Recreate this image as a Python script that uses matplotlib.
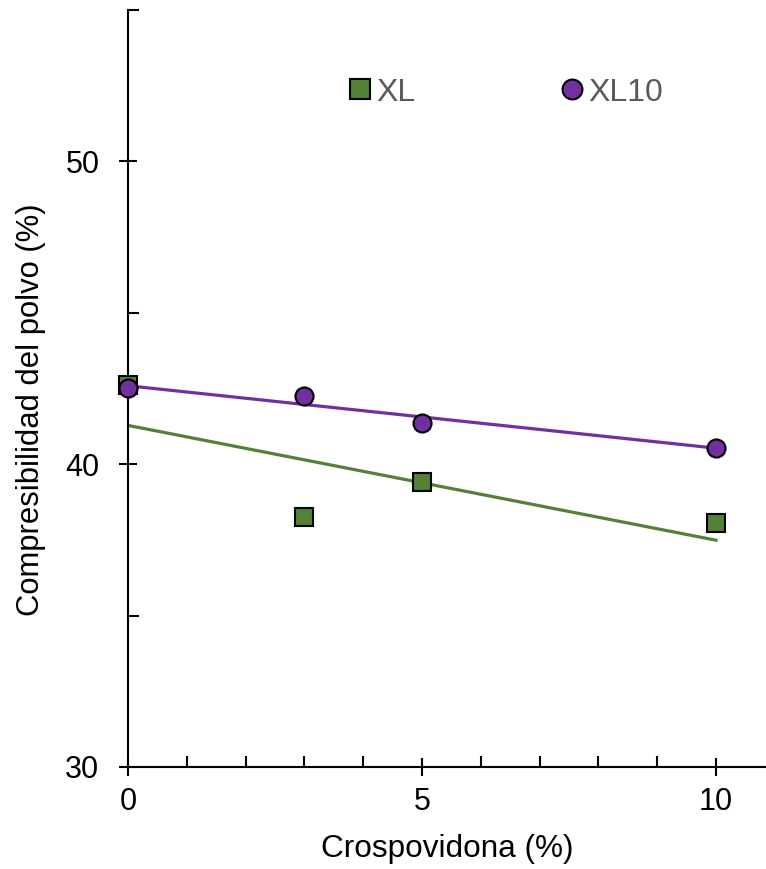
import numpy as np
import matplotlib
matplotlib.use('Agg')
import matplotlib.pyplot as plt
from matplotlib.ticker import MultipleLocator

plt.rcParams['font.family'] = ['Liberation Sans', 'DejaVu Sans']

crospovidona = [0, 3, 5, 10]
xl = [42.6, 38.25, 39.4, 38.05]
xl10 = [42.5, 42.25, 41.35, 40.55]

green = '#538135'
purple = '#7030A0'

fig = plt.figure(figsize=(7.66, 8.69), dpi=100)
ax = fig.add_axes([0.167, 0.1174, 0.833, 0.8711])

# trend lines (least squares)
xs = np.array([0, 10])
for y, c in [(xl, green), (xl10, purple)]:
    m, b = np.polyfit(crospovidona, y, 1)
    ax.plot(xs, m * xs + b, color=c, lw=2.3, zorder=2)

ax.plot(crospovidona, xl, 's', color=green, ms=13, mec='black', mew=1.5,
        label='XL', zorder=3, clip_on=False)
ax.plot(crospovidona, xl10, 'o', color=purple, ms=13, mec='black', mew=1.5,
        label='XL10', zorder=4, clip_on=False)

ax.set_xlim(0, 10.85)
ax.set_ylim(30, 55)
ax.spines['top'].set_visible(False)
ax.spines['right'].set_visible(False)
for s in ['left', 'bottom']:
    ax.spines[s].set_linewidth(1.5)

ax.xaxis.set_major_locator(MultipleLocator(5))
ax.xaxis.set_minor_locator(MultipleLocator(1))
ax.yaxis.set_minor_locator(MultipleLocator(5))
ax.set_yticks([30, 40, 50])
ax.tick_params(which='major', direction='inout', length=13, width=1.5,
               labelsize=22)
ax.tick_params(axis='y', which='major', pad=14)
ax.tick_params(axis='x', which='major', pad=8)
ax.tick_params(which='minor', direction='in', length=8, width=1.5)

ax.set_xlabel('Crospovidona (%)', fontsize=22.7, labelpad=12)
ax.set_ylabel('Compresibilidad del polvo (%)', fontsize=22.3)
ax.yaxis.set_label_coords(-0.129, 0.472)

leg = ax.legend(loc='center', bbox_to_anchor=(0.594, 0.891), ncol=2,
                frameon=False, fontsize=23, handlelength=0.6,
                handletextpad=0.2, columnspacing=4.6, borderpad=0,
                markerscale=1.1)
for t in leg.get_texts():
    t.set_color('#595959')

fig.savefig('out.png', dpi=100)
